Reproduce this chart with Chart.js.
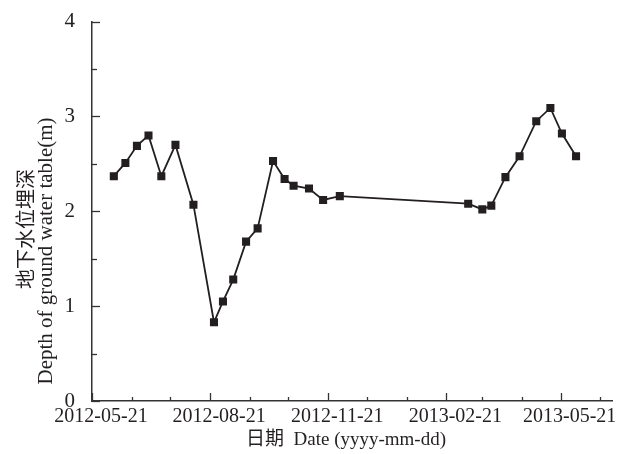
<!DOCTYPE html>
<html>
<head>
<meta charset="utf-8">
<script src="https://cdn.jsdelivr.net/npm/chart.js@4.4.0/dist/chart.umd.min.js"></script>
<style>
html,body{margin:0;padding:0;background:#fff;}
#wrap{width:627px;height:454px;position:relative;}
</style>
</head>
<body>
<div id="wrap"><canvas id="c" width="627" height="454"></canvas></div>
<script>
// ---- data ----
const dates = ['2012-06-07','2012-06-16','2012-06-25','2012-07-04','2012-07-14','2012-07-25',
  '2012-08-08','2012-08-24','2012-08-31','2012-09-08','2012-09-18','2012-09-27',
  '2012-10-09','2012-10-18','2012-10-25','2012-11-06','2012-11-17','2012-11-30',
  '2013-03-10','2013-03-21','2013-03-28','2013-04-08','2013-04-19','2013-05-02',
  '2013-05-13','2013-05-22','2013-06-02'];
const depth = [2.37,2.51,2.69,2.80,2.37,2.70,
  2.07,0.83,1.05,1.28,1.68,1.82,
  2.53,2.34,2.27,2.24,2.12,2.16,
  2.08,2.02,2.06,2.36,2.58,2.95,
  3.09,2.82,2.58];
const monthTicks = ['2012-05-21','2012-06-21','2012-07-21','2012-08-21','2012-09-21','2012-10-21',
  '2012-11-21','2012-12-21','2013-01-21','2013-02-21','2013-03-21','2013-04-21',
  '2013-05-21','2013-06-21'];
const xLabels = ['2012-05-21','2012-08-21','2012-11-21','2013-02-21','2013-05-21'];
const yTicks = [0,1,2,3,4];
const xStart = '2012-05-21';
const xEnd = '2013-06-30';
const yTitleCN = '地下水位埋深';
const yTitleEN = 'Depth of ground water table(m)';
const xTitle = '日期  Date (yyyy-mm-dd)';

// ---- helpers ----
function dayOf(s){
  const p = s.split('-').map(Number);
  const b = xStart.split('-').map(Number);
  return (Date.UTC(p[0],p[1]-1,p[2]) - Date.UTC(b[0],b[1]-1,b[2])) / 86400000;
}
const points = dates.map((d,i)=>({x:dayOf(d), y:depth[i]}));
const labelMap = {};
xLabels.forEach(l=>{ labelMap[dayOf(l)] = l; });

const INK = '#231f20';
const AXIS = '#333333';
const SERIF = '"Liberation Serif", "Times New Roman", serif';
const MIX = '"Liberation Serif", "Noto Sans CJK SC", serif';

const decor = {
  id:'decor',
  afterDraw(chart){
    const ctx = chart.ctx;
    const xs = chart.scales.x, ys = chart.scales.y;
    const ca = chart.chartArea;
    ctx.save();
    ctx.strokeStyle = AXIS;
    ctx.lineWidth = 1.3;
    // x inward ticks
    monthTicks.forEach(t=>{
      const v = dayOf(t);
      const px = Math.round(xs.getPixelForValue(v)) + 0.5;
      const len = (v in labelMap) ? 8 : 4;
      ctx.beginPath(); ctx.moveTo(px, ca.bottom); ctx.lineTo(px, ca.bottom - len); ctx.stroke();
    });
    // y inward ticks (major + minor)
    for (let v = 0; v <= 4.0001; v += 0.5) {
      const py = Math.round(ys.getPixelForValue(v)) + 0.5;
      const len = (Math.abs(v - Math.round(v)) < 1e-6) ? 8 : 5;
      ctx.beginPath(); ctx.moveTo(ca.left, py); ctx.lineTo(ca.left + len, py); ctx.stroke();
    }
    // titles
    ctx.fillStyle = INK;
    ctx.textAlign = 'center';
    ctx.textBaseline = 'middle';
    ctx.save();
    ctx.translate(25, 229);
    ctx.rotate(-Math.PI/2);
    ctx.font = '20px "Noto Sans CJK SC", sans-serif';
    ctx.fillText(yTitleCN, 0, 0);
    ctx.restore();
    ctx.save();
    ctx.translate(46, 251);
    ctx.rotate(-Math.PI/2);
    ctx.font = '21px ' + SERIF;
    ctx.fillText(yTitleEN, 0, 0);
    ctx.restore();
    ctx.font = '19px ' + MIX;
    ctx.fillText(xTitle, 346, 440);
    ctx.restore();
  }
};

new Chart(document.getElementById('c'), {
  type:'line',
  data:{ datasets:[{
    data: points,
    borderColor: INK,
    backgroundColor: INK,
    borderWidth: 1.8,
    pointStyle: 'rect',
    pointRadius: 5.7,
    pointHoverRadius: 5.7,
    pointBorderWidth: 0,
    tension: 0,
    fill: false
  }]},
  options:{
    responsive:false,
    animation:false,
    events:[],
    layout:{ padding:{ top:19, right:15, left:0, bottom:0 } },
    plugins:{ legend:{display:false}, tooltip:{enabled:false}, title:{display:false} },
    scales:{
      x:{
        type:'linear',
        min: dayOf(xStart),
        max: dayOf(xEnd),
        grid:{ display:false },
        border:{ display:true, color:AXIS, width:1.5 },
        afterBuildTicks(scale){ scale.ticks = xLabels.map(l=>({value:dayOf(l)})); },
        afterFit(scale){ scale.height = 53; },
        ticks:{
          autoSkip:false, maxRotation:0, minRotation:0,
          padding:-4, labelOffset:9,
          color: INK,
          font:{ family: SERIF, size:20 },
          callback:(v)=> labelMap[v] || ''
        }
      },
      y:{
        min:0, max:4,
        grid:{ display:false },
        border:{ display:true, color:AXIS, width:1.5 },
        afterBuildTicks(scale){ scale.ticks = yTicks.map(v=>({value:v})); },
        afterFit(scale){ scale.width = 92; },
        ticks:{
          padding:9,
          color: INK,
          font:{ family: SERIF, size:21 },
          callback:(v)=> String(v)
        }
      }
    }
  },
  plugins:[decor]
});
</script>
</body>
</html>
